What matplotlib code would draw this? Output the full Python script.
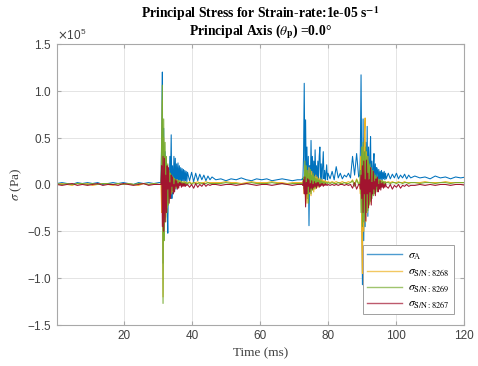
import numpy as np
import matplotlib
matplotlib.use("Agg")
import matplotlib.pyplot as plt
from matplotlib.ticker import ScalarFormatter

plt.rcParams['font.family'] = ['Liberation Sans', 'DejaVu Sans']
plt.rcParams['mathtext.fontset'] = 'stix'

# time segments (ms): start, step; each series gives one value list per segment
seg_start = [0.3, 30.9, 39.3, 47.0, 72.2, 80.6, 89.3, 97.7, 105.5]
seg_step = [1.5, 0.2, 0.6, 1.5, 0.2, 0.6, 0.2, 0.6, 1.5]

# stress values in units of 1e5 Pa
sig_a = [
    [0.01, 0.02, 0.01, 0.00, 0.02, 0.01, 0.02, 0.01, 0.02, 0.00, 0.01, 0.02, 0.01, 0.02, 0.01, 0.00, 0.02, 0.01, 0.02, 0.01, 0.02],
    [0.02, 0.45, 1.20, -0.84, 0.60, -0.40, 0.35, -0.30, 0.25, -0.20, -0.52, 0.15, -0.10, 0.30, 0.05, 0.53, -0.15, 0.20, -0.10, 0.30,
     0.00, 0.28, -0.05, 0.22, 0.02, 0.23, 0.00, 0.20, 0.03, 0.18, 0.01, 0.17, 0.04, 0.16, 0.02, 0.15, 0.04, 0.14, 0.03, 0.13],
    [0.04, 0.13, 0.03, 0.12, 0.04, 0.11, 0.05, 0.10, 0.04, 0.09, 0.05, 0.08],
    [0.05, 0.06, 0.04, 0.06, 0.05, 0.07, 0.05, 0.04, 0.06, 0.05, 0.06, 0.04, 0.05, 0.06, 0.05, 0.04, 0.05],
    [0.05, 0.06, 0.05, 0.30, 1.08, 0.15, 0.69, 0.05, 0.40, -0.15, 0.30, -0.44, 0.20, 0.02, 0.47, 0.05, 0.30, 0.00, 0.25, 0.05,
     0.37, 0.08, 0.20, 0.02, 0.25, 0.06, 0.30, 0.40, 0.05, 0.22, 0.04, 0.20, 0.35, 0.06, 0.15, 0.04, 0.12, 0.21, 0.05, 0.12],
    [0.06, 0.14, 0.05, 0.19, 0.07, 0.12, 0.06, 0.10, 0.08, 0.12, 0.07, 0.30, 0.10, 0.33, 0.08],
    [0.10, 0.35, 1.17, 0.20, -1.07, 0.70, -0.60, 0.50, -0.45, 0.45, -0.25, 0.62, -0.34, 0.40, -0.20, 0.30, 0.51, -0.15, 0.25, -0.10,
     0.20, 0.33, -0.05, 0.22, 0.00, 0.18, 0.15, 0.02, 0.16, 0.04, 0.14, 0.05, 0.15, 0.04, 0.13, 0.06, 0.14, 0.05, 0.12, 0.06],
    [0.12, 0.06, 0.11, 0.07, 0.12, 0.06, 0.10, 0.07, 0.11, 0.06, 0.10, 0.07],
    [0.09, 0.07, 0.08, 0.06, 0.09, 0.07, 0.08, 0.06, 0.08, 0.07, 0.08],
]

sig_8268 = [
    [0.00, 0.01, 0.00, -0.01, 0.01, 0.00, 0.01, -0.01, 0.00, 0.01, 0.00, -0.01, 0.01, 0.00, 0.01, 0.00, -0.01, 0.01, 0.00, 0.01, 0.00],
    [0.00, -0.30, 0.90, -1.20, 0.50, -0.45, 0.30, -0.35, 0.20, -0.25, 0.15, -0.20, 0.12, -0.15, 0.10, -0.10, 0.08, -0.08, 0.07, -0.05,
     0.06, -0.04, 0.05, -0.03, 0.05, -0.02, 0.04, -0.01, 0.04, 0.00, 0.03, 0.00, 0.03, 0.01, 0.03, 0.01, 0.03, 0.01, 0.02, 0.01],
    [0.03, 0.01, 0.02, 0.02, 0.03, 0.01, 0.02, 0.02, 0.03, 0.02, 0.02, 0.02],
    [0.02, 0.02, 0.03, 0.02, 0.02, 0.01, 0.02, 0.03, 0.02, 0.02, 0.02, 0.03, 0.02, 0.02, 0.01, 0.02, 0.02],
    [0.02, 0.02, 0.02, 0.05, -0.10, 0.20, -0.18, 0.15, -0.20, 0.12, -0.15, 0.18, -0.10, 0.10, -0.12, 0.14, -0.06, 0.10, -0.08, 0.08,
     -0.05, 0.10, -0.04, 0.08, -0.03, 0.06, -0.02, 0.07, 0.00, 0.05, 0.00, 0.05, 0.01, 0.04, 0.01, 0.04, 0.02, 0.03, 0.02, 0.03],
    [0.02, 0.03, 0.02, 0.03, 0.02, 0.02, 0.03, 0.02, 0.02, 0.03, 0.02, 0.05, 0.00, 0.06, 0.01],
    [0.02, -0.10, 0.30, -0.60, -0.95, 0.40, -0.50, 0.55, 0.71, -0.40, 0.35, -0.30, 0.30, -0.25, 0.20, -0.20, 0.15, -0.15, 0.12, -0.10,
     0.10, -0.08, 0.08, -0.06, 0.07, -0.04, 0.06, -0.03, 0.05, -0.02, 0.05, -0.01, 0.04, 0.00, 0.04, 0.01, 0.03, 0.01, 0.03, 0.02],
    [0.03, 0.02, 0.03, 0.02, 0.02, 0.03, 0.02, 0.02, 0.03, 0.02, 0.02, 0.02],
    [0.02, 0.02, 0.03, 0.02, 0.02, 0.02, 0.03, 0.02, 0.02, 0.02, 0.02],
]

sig_8269 = [
    [0.01, 0.00, 0.01, 0.00, 0.01, 0.01, 0.00, 0.01, 0.00, 0.01, 0.01, 0.00, 0.01, 0.00, 0.01, 0.00, 0.01, 0.01, 0.00, 0.01, 0.00],
    [0.00, 0.50, 1.06, -1.27, 0.70, -0.60, 0.45, -0.40, 0.30, -0.30, 0.22, -0.22, 0.15, -0.15, 0.12, -0.10, 0.10, -0.07, 0.08, -0.05,
     0.06, -0.04, 0.05, -0.03, 0.04, -0.02, 0.04, -0.01, 0.03, 0.00, 0.03, 0.00, 0.02, 0.00, 0.02, 0.01, 0.02, 0.00, 0.02, 0.01],
    [0.02, 0.00, 0.02, 0.01, 0.01, 0.02, 0.01, 0.01, 0.01, 0.02, 0.01, 0.01],
    [0.01, 0.01, 0.02, 0.01, 0.01, 0.00, 0.01, 0.02, 0.01, 0.01, 0.01, 0.02, 0.01, 0.01, 0.00, 0.01, 0.01],
    [0.01, 0.01, 0.01, 0.08, -0.05, 0.25, -0.15, 0.20, -0.10, 0.15, -0.20, 0.12, -0.08, 0.16, -0.10, 0.10, -0.06, 0.12, -0.05, 0.08,
     -0.04, 0.07, -0.03, 0.06, -0.02, 0.05, -0.01, 0.05, 0.00, 0.04, 0.00, 0.03, 0.01, 0.03, 0.01, 0.02, 0.01, 0.02, 0.01, 0.02],
    [0.01, 0.02, 0.01, 0.01, 0.02, 0.01, 0.01, 0.02, 0.01, 0.01, 0.02, 0.04, -0.02, 0.05, 0.00],
    [0.01, 0.15, -0.30, 0.40, -0.45, 0.45, -0.40, 0.35, -0.35, 0.40, -0.30, 0.30, -0.28, 0.25, -0.22, 0.22, -0.18, 0.18, -0.15, 0.15,
     -0.12, 0.12, -0.10, 0.10, -0.08, 0.08, -0.06, 0.06, -0.05, 0.05, -0.03, 0.04, -0.02, 0.04, -0.01, 0.03, 0.00, 0.03, 0.01, 0.02],
    [0.02, 0.01, 0.02, 0.02, 0.01, 0.02, 0.02, 0.01, 0.02, 0.02, 0.01, 0.02],
    [0.02, 0.01, 0.02, 0.02, 0.01, 0.02, 0.02, 0.01, 0.02, 0.02, 0.02],
]

sig_8267 = [
    [0.00, -0.01, 0.00, 0.01, -0.01, 0.00, -0.01, 0.00, 0.01, -0.01, 0.00, 0.00, -0.01, 0.01, 0.00, -0.01, 0.00, 0.01, -0.01, 0.00, 0.00],
    [0.00, 0.20, -0.45, 0.30, -0.50, 0.28, -0.40, 0.10, -0.30, 0.20, -0.05, 0.18, -0.20, 0.02, -0.15, 0.10, -0.02, 0.08, -0.10, 0.00,
     -0.08, 0.05, -0.02, 0.04, -0.05, 0.01, -0.04, 0.02, -0.01, 0.02, -0.03, 0.01, -0.02, 0.01, -0.02, 0.01, -0.02, 0.00, -0.01, 0.00],
    [-0.03, 0.00, -0.04, 0.01, -0.03, 0.00, -0.02, 0.01, -0.02, 0.00, -0.01, 0.00],
    [0.00, -0.01, 0.00, 0.00, -0.01, 0.00, 0.01, 0.00, -0.01, 0.00, 0.00, -0.01, 0.00, 0.01, 0.00, -0.01, 0.00],
    [0.00, 0.00, -0.01, 0.05, -0.10, 0.08, -0.24, 0.02, -0.10, 0.06, -0.02, 0.05, -0.08, 0.01, -0.04, 0.04, -0.05, 0.00, -0.03, 0.03,
     -0.02, 0.01, -0.04, 0.02, -0.01, 0.02, -0.03, 0.00, -0.02, 0.01, -0.01, 0.01, -0.02, 0.00, -0.01, 0.01, -0.01, 0.00, -0.01, 0.00],
    [-0.01, 0.00, -0.01, 0.00, -0.01, 0.00, 0.00, -0.01, 0.00, -0.01, 0.00, -0.04, 0.02, -0.05, 0.00],
    [0.00, -0.05, 0.10, -0.15, 0.20, -0.30, 0.25, -0.10, 0.05, -0.39, 0.26, -0.10, 0.12, -0.25, 0.05, -0.08, 0.18, -0.22, 0.02, -0.10,
     0.14, -0.05, 0.03, -0.12, 0.06, -0.02, 0.08, -0.08, 0.00, -0.05, 0.04, -0.06, 0.01, -0.03, 0.02, -0.04, 0.00, -0.03, 0.01, -0.02],
    [-0.04, 0.00, -0.05, -0.01, -0.03, 0.00, -0.04, -0.01, -0.02, 0.00, -0.02, -0.01],
    [-0.01, 0.00, -0.01, 0.00, -0.01, 0.00, 0.00, -0.01, 0.00, 0.00, -0.01],
]

labels = [r'$\sigma_{\rm A}$', r'$\sigma_{\rm S/N:8268}$', r'$\sigma_{\rm S/N:8269}$', r'$\sigma_{\rm S/N:8267}$']
colors = ['#0072BD', '#EDB120', '#77AC30', '#A2142F']


def build(series):
    t, v = [], []
    for t0, dt, vals in zip(seg_start, seg_step, series):
        t.append(t0 + dt * np.arange(len(vals)))
        v.append(np.array(vals) * 1e5)
    return np.concatenate(t), np.concatenate(v)


fig = plt.figure(figsize=(4.78, 3.66), dpi=100)
ax = fig.add_axes([0.119, 0.112, 0.852, 0.768])

for s, lab, c in zip([sig_a, sig_8268, sig_8269, sig_8267], labels, colors):
    t, v = build(s)
    ax.plot(t, v, color=c, lw=0.75, label=lab)

ax.set_xlim(0.3, 120)
ax.set_ylim(-1.5e5, 1.5e5)
ax.set_xticks([20, 40, 60, 80, 100, 120])
ax.set_yticks(np.arange(-1.5e5, 1.51e5, 0.5e5))
fmt = ScalarFormatter(useMathText=True)
fmt.set_powerlimits((0, 0))
ax.yaxis.set_major_formatter(fmt)
ax.yaxis.get_offset_text().set_math_fontfamily('dejavusans')
ax.yaxis.get_offset_text().set_fontsize(8.5)
ax.yaxis.get_offset_text().set_color('#404040')

ax.grid(True, color='#e4e4e4', lw=0.7)
ax.set_axisbelow(True)
for sp in ax.spines.values():
    sp.set_color('#a8a8a8')
ax.tick_params(direction='in', length=3, colors='#a8a8a8', labelcolor='#404040', labelsize=8.5,
               top=True, right=True)

ax.set_xlabel('Time (ms)', family='Liberation Serif', fontsize=9.5, color='#404040')
ax.set_ylabel(r'$\sigma$ (Pa)', family='Liberation Serif', fontsize=9.5, color='#404040', labelpad=2)
ax.set_title('Principal Stress for Strain-rate:1e-05 s$^{\\mathbf{-1}}$\n'
             'Principal Axis ($\\theta_{\\mathbf{p}}$) =0.0\u00b0',
             family='Liberation Serif', fontweight='bold', fontsize=9.8, linespacing=1.0, pad=6)

leg = ax.legend(loc='lower right', prop={'family': 'Liberation Serif', 'size': 8.5},
                fancybox=False, framealpha=1, edgecolor='#a0a0a0', handlelength=3.0,
                handletextpad=0.5, borderaxespad=0.9, labelspacing=0.3, borderpad=0.35)
leg.get_frame().set_linewidth(0.7)
for h, c in zip(leg.get_lines(), colors):
    h.set_color(c)
    h.set_linewidth(1.0)
    h.set_alpha(0.7)

fig.savefig('out.png', dpi=100)
